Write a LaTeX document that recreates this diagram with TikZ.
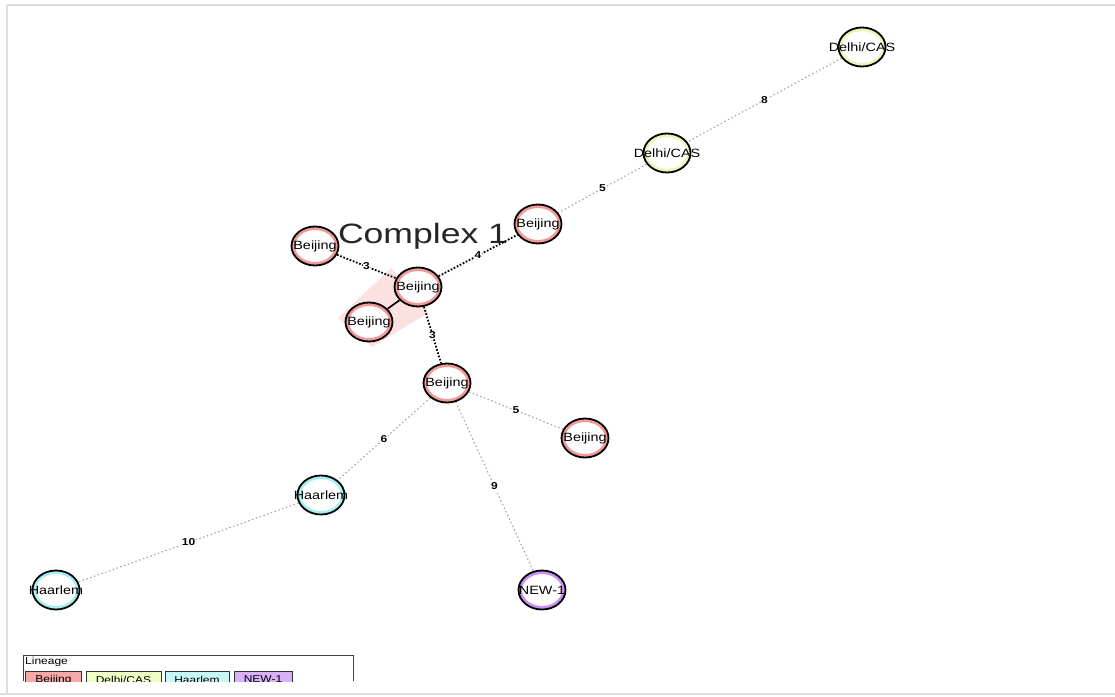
\documentclass[tikz,border=0pt]{standalone}
\usepackage{fontspec}
\setmainfont{Liberation Sans}
\usetikzlibrary{shapes.geometric}
\definecolor{bjc}{HTML}{F29A9A}
\definecolor{dlc}{HTML}{ECF5B8}
\definecolor{hac}{HTML}{A8F0F0}
\definecolor{nwc}{HTML}{C890F0}
\definecolor{bjf}{HTML}{F7A8A8}
\definecolor{dlf}{HTML}{EEFFC6}
\definecolor{haf}{HTML}{C6F8F8}
\definecolor{nwf}{HTML}{D9B1F7}
\definecolor{hullc}{HTML}{FBDCDC}
\newcommand\ntx[1]{\makebox[0pt][c]{\scalebox{1.2}[1]{#1}}}
\newcommand\stx[1]{\scalebox{1.2}[1]{#1}}
\tikzset{
  lin/.style={shape=ellipse, draw=black, line width=1.8pt, fill=white,
    minimum width=47pt, minimum height=39pt, inner sep=0pt,
    path picture={\draw[line width=7pt, draw=#1] (path picture bounding box.center) ellipse [x radius=23.5pt, y radius=19.5pt];},
    font=\fontsize{12}{12}\selectfont},
  far/.style={draw=black!38, line width=1.1pt, dash pattern=on 1.4pt off 2.6pt},
  near/.style={draw=black, line width=1.8pt, dash pattern=on 1.7pt off 1.7pt},
  elab/.style={font=\fontsize{10}{10}\selectfont\bfseries, inner sep=0.6pt, fill=white},
  legbox/.style={draw=black!80, line width=1pt, minimum height=16pt, inner sep=0pt, anchor=north west,
    font=\fontsize{10}{10}\selectfont},
  frame/.style={draw=black!13, line width=1.6pt}
}
\begin{document}
\begin{tikzpicture}[x=1pt,y=-1pt]
\useasboundingbox (0,0) rectangle (1115,696);
% page frame
\draw[frame] (7,5) -- (1115,5);
\draw[frame] (7,5) -- (7,694);
\draw[frame] (0,694) -- (1115,694);
% complex hull
\fill[hullc, opacity=0.85] (338,318) -- (391,268) -- (428,313) -- (372,347) -- cycle;
\node[anchor=base, font=\fontsize{28}{28}\selectfont, text=black!85, inner sep=0pt] (cx) at (423,243) {\scalebox{1.27}[1]{Complex 1}};
% nodes
\node[lin=dlc] (D1) at (862,47) {\ntx{Delhi/CAS}};
\node[lin=dlc] (D2) at (667,153) {\ntx{Delhi/CAS}};
\node[lin=bjc] (B1) at (538,224) {\ntx{Beijing}};
\node[lin=bjc] (B2) at (315,246) {\ntx{Beijing}};
\node[lin=bjc] (B3) at (418,287) {\ntx{Beijing}};
\node[lin=bjc] (B4) at (369,322) {\ntx{Beijing}};
\node[lin=bjc] (B5) at (447,383) {\ntx{Beijing}};
\node[lin=bjc] (B6) at (585,438) {\ntx{Beijing}};
\node[lin=hac] (H1) at (321,495) {\ntx{Haarlem}};
\node[lin=hac] (H2) at (56,590) {\ntx{Haarlem}};
\node[lin=nwc] (N1) at (542,590) {\ntx{NEW-1}};
% edges
\draw[far] (D1) -- node[elab] {\stx{8}} (D2);
\draw[far] (D2) -- node[elab] {\stx{5}} (B1);
\draw[near] (B3) -- node[elab] {\stx{4}} (B1);
\draw[near] (B2) -- node[elab] {\stx{3}} (B3);
\draw[near] (B3) -- node[elab] {\stx{3}} (B5);
\draw[black, line width=1.7pt] (B4) -- (B3);
\draw[far] (B5) -- node[elab] {\stx{5}} (B6);
\draw[far] (B5) -- node[elab] {\stx{6}} (H1);
\draw[far] (B5) -- node[elab] {\stx{9}} (N1);
\draw[far] (H1) -- node[elab] {\stx{10}} (H2);
% legend
\draw[black!75, line width=0.8pt] (23,681) -- (23,655) -- (353,655) -- (353,681);
\node[anchor=base west, inner sep=0pt, font=\fontsize{10}{10}\selectfont] (lgt) at (25,664) {\stx{Lineage}};
\begin{scope}
\clip (0,0) rectangle (1115,681);
\node[legbox, fill=bjf, minimum width=56pt] (L1) at (25,671) {\stx{Beijing}};
\node[legbox, fill=dlf, minimum width=75pt] (L2) at (85.5,671) {\stx{Delhi/CAS}};
\node[legbox, fill=haf, minimum width=64pt] (L3) at (164.5,671) {\stx{Haarlem}};
\node[legbox, fill=nwf, minimum width=58pt] (L4) at (233.5,671) {\stx{NEW-1}};
\end{scope}
\end{tikzpicture}
\end{document}
